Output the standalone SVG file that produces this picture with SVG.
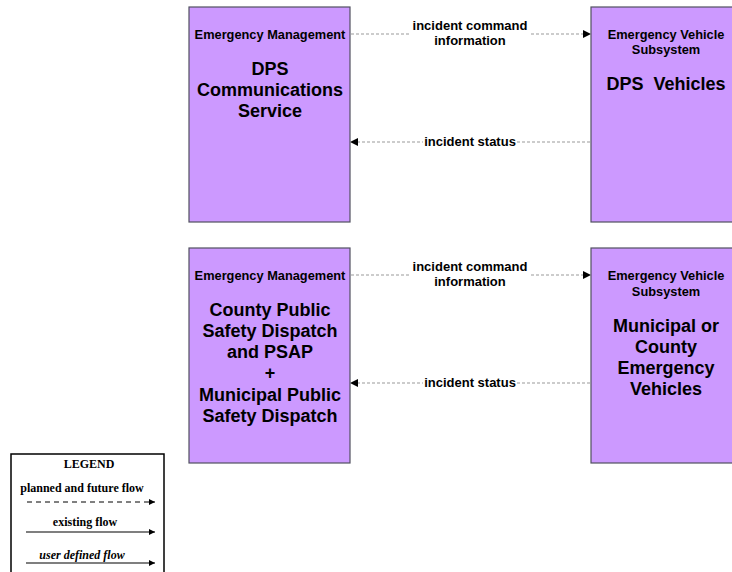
<svg xmlns="http://www.w3.org/2000/svg" width="732" height="572" viewBox="0 0 732 572">
<style>
.box{fill:#CC99FF;stroke:#505060;stroke-width:1.2}
.sub{font-family:"Liberation Sans",Arial,sans-serif;font-weight:bold;font-size:12.8px;fill:#000;text-anchor:middle}
.ttl{font-family:"Liberation Sans",Arial,sans-serif;font-weight:bold;font-size:18px;fill:#000;text-anchor:middle}
.lbl{font-family:"Liberation Sans",Arial,sans-serif;font-weight:bold;font-size:13px;fill:#000;text-anchor:middle}
.flow{stroke:#999;stroke-width:1;stroke-dasharray:3,2;fill:none}
.lg{font-family:"Liberation Serif","Times New Roman",serif;font-weight:bold;font-size:12px;fill:#000;text-anchor:middle}
</style>
<defs>
<marker id="ah" viewBox="0 0 10 10" refX="10" refY="5" markerWidth="8" markerHeight="8" markerUnits="userSpaceOnUse" orient="auto">
<path d="M0,0 L10,5 L0,10 z" fill="#000"/>
</marker>
<marker id="ahs" viewBox="0 0 10 10" refX="10" refY="5" markerWidth="6" markerHeight="6" markerUnits="userSpaceOnUse" orient="auto">
<path d="M0,0 L10,5 L0,10 z" fill="#000"/>
</marker>
</defs>
<rect width="732" height="572" fill="#fff"/>

<g id="connectors">
<line class="flow" x1="351" y1="34" x2="591" y2="34" marker-end="url(#ah)"/>
<rect x="411" y="17" width="118" height="32" fill="#fff"/>
<text class="lbl" x="470" y="30">incident command</text>
<text class="lbl" x="470" y="45">information</text>
<line class="flow" x1="590" y1="142" x2="350" y2="142" marker-end="url(#ah)"/>
<rect x="423" y="134" width="94" height="15" fill="#fff"/>
<text class="lbl" x="470" y="146">incident status</text>

<line class="flow" x1="351" y1="275" x2="591" y2="275" marker-end="url(#ah)"/>
<rect x="411" y="258" width="118" height="32" fill="#fff"/>
<text class="lbl" x="470" y="271">incident command</text>
<text class="lbl" x="470" y="286">information</text>
<line class="flow" x1="590" y1="383" x2="350" y2="383" marker-end="url(#ah)"/>
<rect x="423" y="375" width="94" height="15" fill="#fff"/>
<text class="lbl" x="470" y="387">incident status</text>
</g>

<g id="dps-comm">
<rect class="box" x="189" y="7" width="161" height="215"/>
<text class="sub" x="270" y="39">Emergency Management</text>
<text class="ttl" x="270" y="75">DPS</text>
<text class="ttl" x="270" y="96">Communications</text>
<text class="ttl" x="270" y="117">Service</text>
</g>

<g id="dps-vehicles">
<rect class="box" x="591" y="7" width="161" height="215"/>
<text class="sub" x="666" y="39">Emergency Vehicle</text>
<text class="sub" x="666" y="54">Subsystem</text>
<text class="ttl" x="666" y="90" xml:space="preserve">DPS  Vehicles</text>
</g>

<g id="county-dispatch">
<rect class="box" x="189" y="248" width="161" height="215"/>
<text class="sub" x="270" y="280">Emergency Management</text>
<text class="ttl" x="270" y="316">County Public</text>
<text class="ttl" x="270" y="337">Safety Dispatch</text>
<text class="ttl" x="270" y="358">and PSAP</text>
<text class="ttl" x="270" y="379">+</text>
<text class="ttl" x="270" y="401">Municipal Public</text>
<text class="ttl" x="270" y="422">Safety Dispatch</text>
</g>

<g id="municipal-vehicles">
<rect class="box" x="591" y="248" width="161" height="215"/>
<text class="sub" x="666" y="280">Emergency Vehicle</text>
<text class="sub" x="666" y="296">Subsystem</text>
<text class="ttl" x="666" y="332">Municipal or</text>
<text class="ttl" x="666" y="353">County</text>
<text class="ttl" x="666" y="374">Emergency</text>
<text class="ttl" x="666" y="395">Vehicles</text>
</g>

<g id="legend">
<rect x="11" y="454" width="153" height="130" fill="#fff" stroke="#000" stroke-width="1.5"/>
<text class="lg" x="89" y="468">LEGEND</text>
<text class="lg" x="82" y="492" font-size="11.5">planned and future flow</text>
<line x1="27" y1="502" x2="155" y2="502" stroke="#000" stroke-width="1" stroke-dasharray="5,4" marker-end="url(#ahs)"/>
<text class="lg" x="85" y="526" font-size="11.5">existing flow</text>
<line x1="26" y1="532" x2="155" y2="532" stroke="#000" stroke-width="1.2" marker-end="url(#ahs)"/>
<text class="lg" x="82" y="559" font-size="11.5" font-style="italic">user defined flow</text>
<line x1="26" y1="563" x2="155" y2="563" stroke="#000" stroke-width="1.2" marker-end="url(#ahs)"/>
</g>
</svg>
